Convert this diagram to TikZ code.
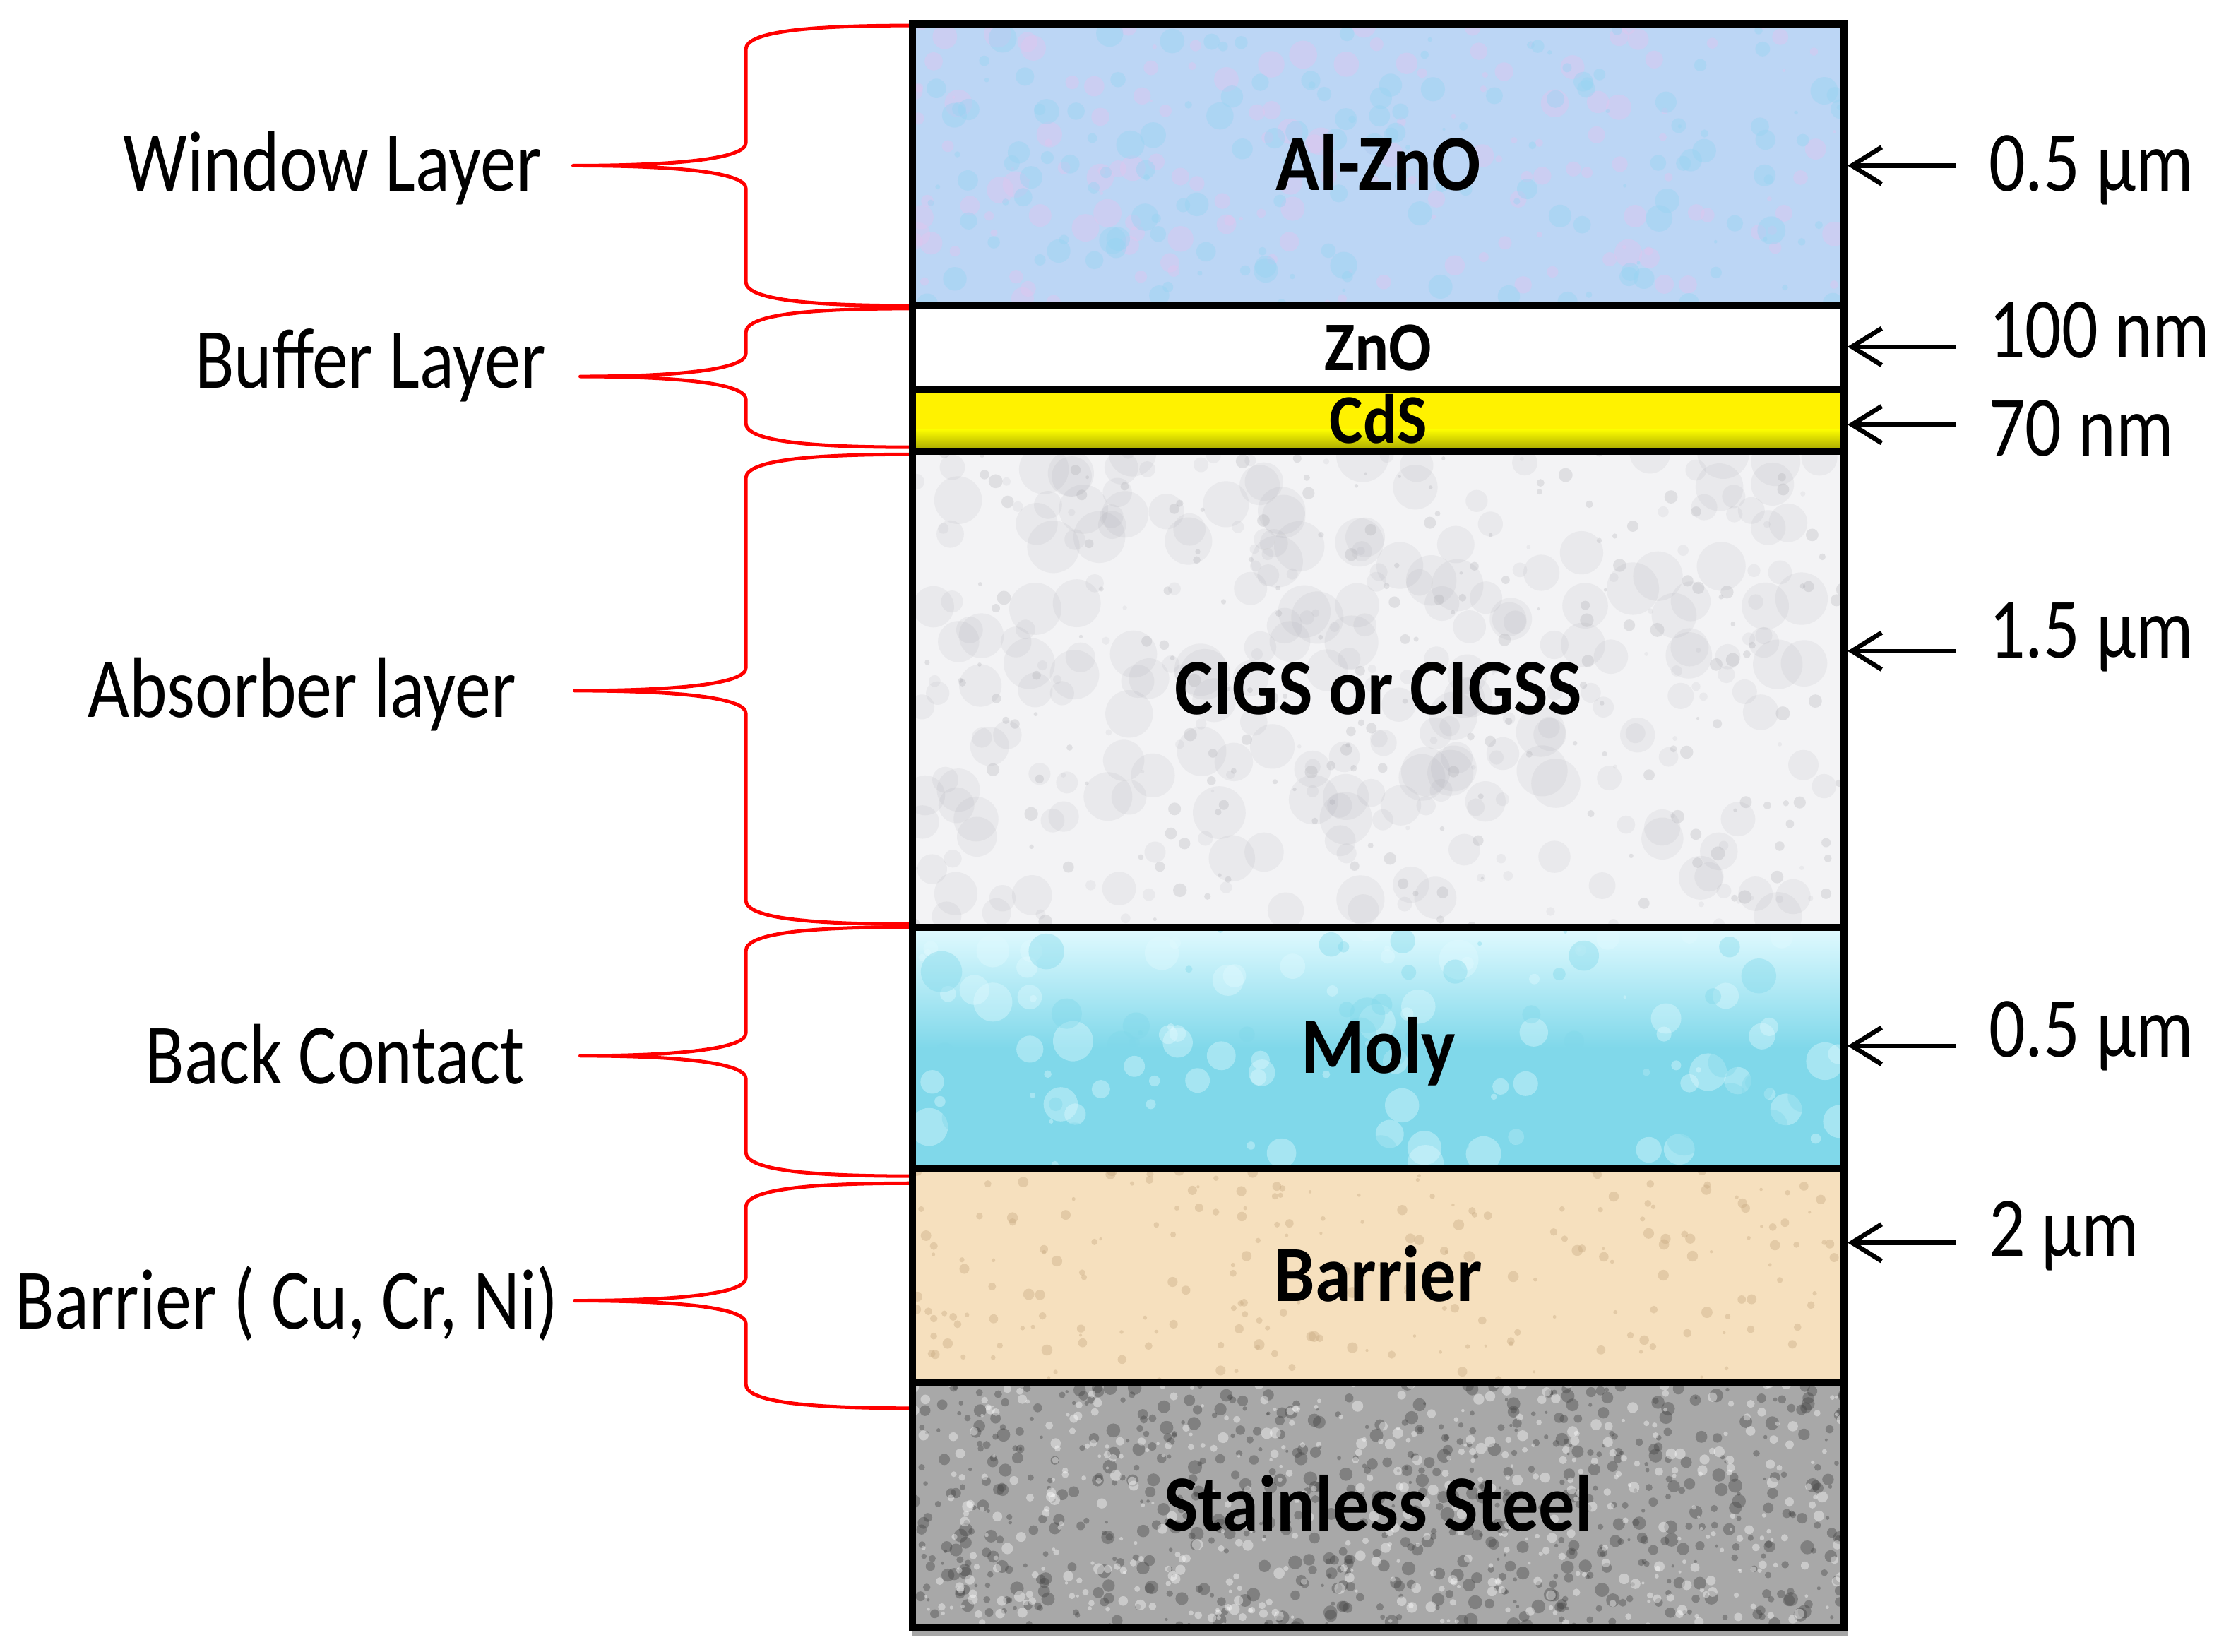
\documentclass[tikz,border=0pt]{standalone}
\usepackage{fontspec}
\setmainfont{Carlito}[FakeStretch=0.84]
\newfontfamily\layerfont{Carlito}[FakeStretch=0.91]
\usetikzlibrary{arrows.meta}

\begin{document}
\begin{tikzpicture}[x=0.2mm, y=-0.2mm,
  layer/.style={draw=black, line width=1mm, minimum width=131.6mm, inner sep=0pt,
    font=\layerfont\bfseries\fontsize{32}{36}\selectfont, text height=7.2mm, text depth=0pt},
  thin layer/.style={layer, font=\layerfont\bfseries\fontsize{28}{32}\selectfont, text height=6.4mm},
  side/.style={inner sep=0pt, font=\fontsize{34.5}{40}\selectfont},
  brace/.style={red, line width=0.5mm, line join=round},
  dim/.style={line width=0.65mm, -{Straight Barb[length=4.2mm, width=5.2mm]}}]
\definecolor{azo}{RGB}{188,214,245}
\definecolor{azoA}{RGB}{226,196,238}
\definecolor{azoB}{RGB}{150,212,242}
\definecolor{cigs}{RGB}{243,243,245}
\definecolor{cigsB}{RGB}{165,165,172}
\definecolor{moly}{RGB}{128,216,234}
\definecolor{molyB}{RGB}{225,250,255}
\definecolor{bar}{RGB}{246,224,190}
\definecolor{barB}{RGB}{200,170,130}
\definecolor{steel}{RGB}{168,168,168}
\definecolor{steelD}{RGB}{70,70,70}
\definecolor{cdsD}{RGB}{175,175,0}
\useasboundingbox (0,0) rectangle (1568,1167);

% layer colours
\fill[azo] (645,17) rectangle (1303,216);
\fill[white] (645,216) rectangle (1303,275);
\fill[yellow] (645,275) rectangle (1303,319);
\shade[top color=yellow, bottom color=cdsD] (645,303) rectangle (1303,317);
\fill[cigs] (645,319) rectangle (1303,655);
\shade[top color=molyB, bottom color=moly, middle color=moly] (645,655) rectangle (1303,826);
\fill[bar] (645,826) rectangle (1303,977);
\fill[steel] (645,977) rectangle (1303,1150);
\fill[black!35] (645,1150) rectangle (1306,1156);

% textures
\pgfmathsetseed{11}
\foreach \t/\b/\c/\n/\r/\o in {17/216/azoA/160/9/.4, 17/216/azoB/160/9/.4,
    319/655/cigsB/320/18/.12, 319/655/cigsB/200/4/.25,
    655/826/molyB/90/14/.4, 655/826/moly/60/14/.4, 826/977/barB/220/3/.4,
    977/1150/steelD/700/4/.4, 977/1150/white/500/3/.4}{
  \begin{scope}
    \clip (645,\t) rectangle (1303,\b);
    \foreach \i in {1,...,\n}
      \fill[\c, opacity=\o] ({645+658*rnd},{\t+(\b-\t)*rnd}) circle ({1+\r*rnd});
  \end{scope}
}

% braces
\foreach \t/\b/\m/\x in {18/216/117/405, 218/316/266/410, 321/653/488/406,
    655/831/746/410, 836/995/919/406}
  \draw[brace] (647,\t) .. controls (580,\t) and (527,\t+3) .. (527,\t+17)
    -- (527,\m-16) .. controls (527,\m-5) and (480,\m) .. (\x,\m)
    .. controls (480,\m) and (527,\m+5) .. (527,\m+16)
    -- (527,\b-17) .. controls (527,\b-3) and (580,\b) .. (647,\b);

% layers
\node[layer, minimum height=39.8mm] (alzno) at (974,116.5) {Al-ZnO};
\node[thin layer, minimum height=11.9mm] (zno) at (974,245.75) {ZnO};
\node[thin layer, minimum height=8.7mm] (cds) at (974,297.25) {CdS};
\node[layer, minimum height=67.2mm] (cigs) at (974,487) {CIGS or CIGSS};
\node[layer, minimum height=34.1mm] (moly) at (974,740.25) {Moly};
\node[layer, minimum height=30.3mm] (barrier) at (974,901.25) {Barrier};
\node[layer, minimum height=34.6mm] (steel) at (974,1063.5) {Stainless Steel};

% left labels
\node[side, anchor=base east] (window) at (383,135) {Window Layer};
\node[side, anchor=base east] (buffer) at (386,274) {Buffer Layer};
\node[side, anchor=base east] (absorber) at (365,507) {Absorber layer};
\node[side, anchor=base east] (back) at (371,766) {Back Contact};
\node[side, anchor=base east] (barrierlbl) at (395,939) {Barrier ( Cu, Cr, Ni)};

% thicknesses
\foreach \y/\b/\txt/\n/\lay in {117/135/0.5 µm/d1/alzno, 245/253/100 nm/d2/zno,
    300/322/70 nm/d3/cds, 460/465/1.5 µm/d4/cigs, 739/747/0.5 µm/d5/moly,
    878/888/2 µm/d6/barrier}{
  \node[side, anchor=base west] (\n) at (1405,\b) {\txt};
  \coordinate (a\n) at (1382,\y);
  \draw[dim] (a\n) -- (a\n -| \lay.east);
}
\end{tikzpicture}
\end{document}
